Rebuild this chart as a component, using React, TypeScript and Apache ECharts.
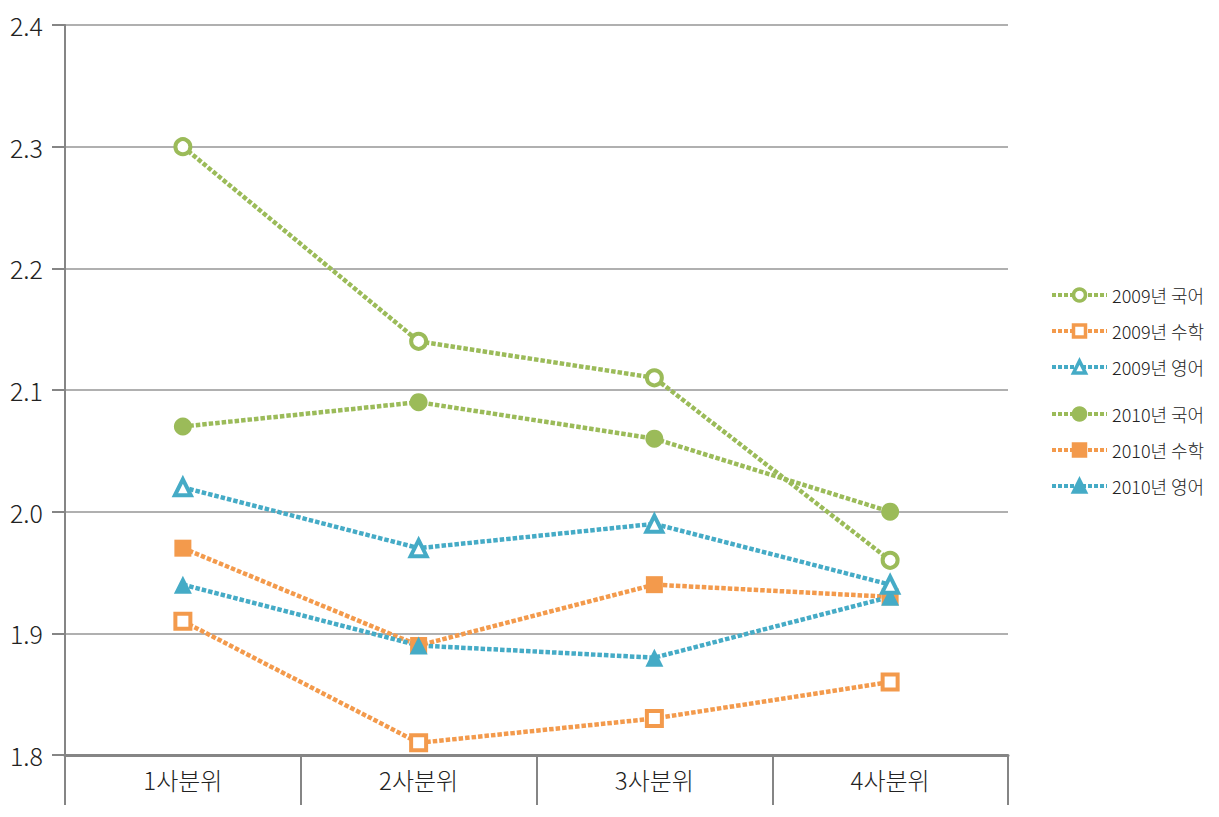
import React, { useEffect, useRef } from "react";
import * as echarts from "echarts";

const categories = ["1사분위", "2사분위", "3사분위", "4사분위"];
const kor2009 = [2.3, 2.14, 2.11, 1.96];
const math2009 = [1.91, 1.81, 1.83, 1.86];
const eng2009 = [2.02, 1.97, 1.99, 1.94];
const kor2010 = [2.07, 2.09, 2.06, 2.0];
const math2010 = [1.97, 1.89, 1.94, 1.93];
const eng2010 = [1.94, 1.89, 1.88, 1.93];

const GREEN = "#9bbb59";
const ORANGE = "#f39a4c";
const BLUE = "#45abc6";
const FONT = "'Noto Sans CJK KR', 'Noto Sans', sans-serif";

function mk(name: string, data: number[], color: string, symbol: string, hollow: boolean, size: number) {
  return {
    name,
    type: "line",
    data,
    symbol,
    symbolSize: size,
    showAllSymbol: true,
    lineStyle: { color, width: 4.5, type: [4.5, 2] },
    itemStyle: hollow
      ? { color: "#ffffff", borderColor: color, borderWidth: 4 }
      : { color, borderColor: color, borderWidth: 0 },
    z: hollow ? 3 : 2,
  };
}

export default function App() {
  const ref = useRef<HTMLDivElement>(null);
  useEffect(() => {
    document.body.style.margin = "0";
    const chart = echarts.init(ref.current!, null, { renderer: "svg" });
    const legendCommon = {
      orient: "vertical",
      left: 1045,
      itemWidth: 55,
      itemHeight: 15,
      itemGap: 18,
      lineStyle: { width: 4, type: [4, 2] },
      itemStyle: { borderWidth: 3.5 },
      textStyle: { fontFamily: FONT, fontSize: 18, color: "#222", fontWeight: 300 },
    };
    chart.setOption({
      animation: false,
      backgroundColor: "#ffffff",
      grid: { left: 65, right: 211, top: 25, bottom: 62 },
      legend: [
        { ...legendCommon, top: 281, data: ["2009년 국어", "2009년 수학", "2009년 영어"] },
        { ...legendCommon, top: 400, data: ["2010년 국어", "2010년 수학", "2010년 영어"] },
      ],
      xAxis: {
        type: "category",
        data: categories,
        boundaryGap: true,
        axisLine: { lineStyle: { color: "#858585", width: 3 } },
        axisTick: { show: true, length: 50, lineStyle: { color: "#858585", width: 2 } },
        axisLabel: { fontFamily: FONT, fontSize: 24, color: "#222", margin: 12, fontWeight: 300 },
      },
      yAxis: {
        type: "value",
        min: 1.8,
        max: 2.4,
        interval: 0.1,
        axisLine: { show: true, lineStyle: { color: "#858585", width: 2 } },
        axisTick: { show: true, length: 13, lineStyle: { color: "#858585", width: 2 } },
        axisLabel: {
          fontFamily: FONT,
          fontSize: 25,
          color: "#222",
          margin: 22,
          fontWeight: 300,
          formatter: (v: number) => v.toFixed(1),
        },
        splitLine: { show: true, lineStyle: { color: "#b0b0b0", width: 2 } },
      },
      series: [
        mk("2009년 국어", kor2009, GREEN, "circle", true, 15),
        mk("2009년 수학", math2009, ORANGE, "rect", true, 15),
        mk("2009년 영어", eng2009, BLUE, "triangle", true, 16),
        mk("2010년 국어", kor2010, GREEN, "circle", false, 18),
        mk("2010년 수학", math2010, ORANGE, "rect", false, 17),
        mk("2010년 영어", eng2010, BLUE, "triangle", false, 18),
      ],
    });
    return () => chart.dispose();
  }, []);
  return <div ref={ref} style={{ width: 1219, height: 817 }} />;
}
